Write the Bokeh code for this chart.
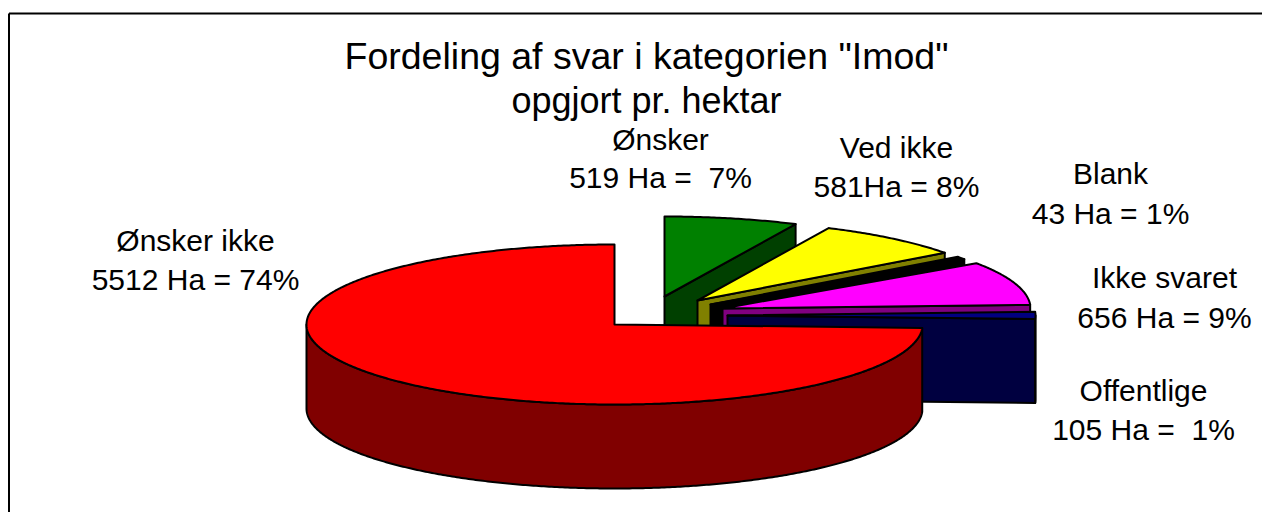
import numpy as np
from bokeh.plotting import figure
from bokeh.embed import file_html
from bokeh.resources import INLINE
from bokeh.core.properties import value

# data
categories = ["Ønsker", "Ved ikke", "Blank", "Ikke svaret", "Offentlige", "Ønsker ikke"]
hectares = [519, 581, 43, 656, 105, 5512]
title_lines = ['Fordeling af svar i kategorien "Imod"', "opgjort pr. hektar"]
label_lines = [
    ["Ønsker", "519 Ha =\u00a0 7%"],
    ["Ved ikke", "581Ha = 8%"],
    ["Blank", "43 Ha = 1%"],
    ["Ikke svaret", "656 Ha = 9%"],
    ["Offentlige", "105 Ha =\u00a0 1%"],
    ["Ønsker ikke", "5512 Ha = 74%"],
]

# style / layout
top_colors = ["#008000", "#ffff00", "#000000", "#ff00ff", "#000080", "#ff0000"]
wall_colors = ["#004000", "#808000", "#000000", "#800080", "#000040", "#800000"]
apex_x = [664, 697, 710, 722, 727, 614]
apex_y = [296, 300, 304, 308, 315, 324]
RX, RY, DEPTH = 308, 80, 84
label_x = [660, 896, 1110, 1164, 1143, 195]
label_y = [[139, 177], [147, 186], [173, 213], [277, 317], [390, 429], [240, 279]]

W, H = 1262, 512
p = figure(width=W, height=H, x_range=(0, W), y_range=(H, 0),
           output_backend="svg", toolbar_location=None, min_border=0,
           outline_line_color=None, background_fill_color="white")
p.grid.visible = False
p.xaxis.visible = False
p.yaxis.visible = False

# chart-area border: top and left edges
p.line([8.5, W], [13, 13], line_color="#000000", line_width=2)
p.line([8.5, 8.5], [13, H], line_color="#000000", line_width=2)

total = sum(hectares)
edges = np.radians(np.concatenate([[0], np.cumsum(hectares) / total * 360]))


def rim(ax, ay, t0, t1):
    t = np.linspace(t0, t1, max(2, int(np.degrees(t1 - t0) * 2)))
    return ax + RX * np.sin(t), ay - RY * np.cos(t)


for i in range(len(hectares)):
    ax, ay, t0, t1 = apex_x[i], apex_y[i], edges[i], edges[i + 1]
    rx, ry = rim(ax, ay, t0, t1)
    style = dict(fill_color=wall_colors[i], line_color="#000000", line_width=2, line_join="round")
    # cut face at the clockwise end of the slice
    if np.sin(t1) > 1e-6:
        p.patch([ax, rx[-1], rx[-1], ax], [ay, ry[-1], ry[-1] + DEPTH, ay + DEPTH], **style)
    # outer wall on the part of the rim that faces the viewer
    a, b = max(t0, np.pi / 2), min(t1, 3 * np.pi / 2)
    if b > a:
        wx, wy = rim(ax, ay, a, b)
        p.patch(np.r_[wx, wx[::-1]], np.r_[wy, wy[::-1] + DEPTH], **style)
    # top face
    p.patch(np.r_[ax, rx], np.r_[ay, ry], fill_color=top_colors[i], line_color="#000000",
            line_width=2, line_join="round")

font = value("Liberation Sans")
p.text([646], [55], text=title_lines[:1], text_font=font, text_font_size="37.5px",
       text_align="center", text_baseline="middle", text_color="#000000")
p.text([646], [100], text=title_lines[1:], text_font=font, text_font_size="36px",
       text_align="center", text_baseline="middle", text_color="#000000")
for x, ys, lines in zip(label_x, label_y, label_lines):
    p.text([x, x], ys, text=lines, text_font=font, text_font_size="30px",
           text_align="center", text_baseline="middle", text_color="#000000")

open("out.html", "w").write(file_html(p, INLINE))
